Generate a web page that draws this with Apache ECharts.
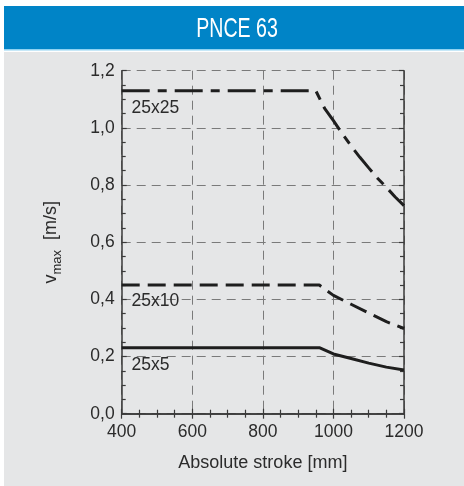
<!DOCTYPE html>
<html><head><meta charset="utf-8">
<script src="https://cdn.jsdelivr.net/npm/echarts@6/dist/echarts.min.js"></script>
<style>html,body{margin:0;padding:0;background:#fff}#c{width:464px;height:486px}</style>
</head><body><div id="c"></div>
<script>
var title = 'PNCE 63';
var xTicks = [400, 600, 800, 1000, 1200];
var yTicks = [0, 0.2, 0.4, 0.6, 0.8, 1.0, 1.2];
var stroke25x25 = [[400, 1.13], [950, 1.13], [975, 1.068], [1000, 1.025], [1025, 0.98], [1050, 0.937], [1075, 0.897], [1100, 0.86], [1125, 0.824], [1150, 0.792], [1175, 0.758], [1200, 0.728]];
var stroke25x10 = [[400, 0.45], [960, 0.45], [1000, 0.414], [1050, 0.383], [1100, 0.352], [1150, 0.322], [1200, 0.298]];
var stroke25x5 = [[400, 0.231], [960, 0.231], [1000, 0.209], [1050, 0.193], [1100, 0.177], [1150, 0.163], [1200, 0.153]];
var seriesNames = ['25x25', '25x10', '25x5'];
var labelPos = [[428, 1.07], [428, 0.392], [428, 0.17]];

var chart = echarts.init(document.getElementById('c'), null, {renderer: 'canvas'});
var txt = '#2b2b2b', axisCol = '#3a3a3a', gridCol = '#7a7a7a', lineCol = '#1e1e1e';
var FF = '"Liberation Sans", Arial, sans-serif';
function mk(name, data, type, idx) {
  return {
    name: name, type: 'line', data: data, symbol: 'none', smooth: false,
    lineStyle: {color: lineCol, width: 3, type: type},
    markPoint: {
      symbol: 'circle', symbolSize: 0,
      data: [{coord: labelPos[idx], value: name}],
      label: {show: true, position: 'right', distance: 0, formatter: name, color: txt, fontSize: 17.5, fontFamily: FF}
    },
    z: 5
  };
}
var axisCommon = {
  type: 'value',
  axisLine: {show: true, lineStyle: {color: axisCol, width: 1.5}},
  axisTick: {show: true, inside: true, length: 5, lineStyle: {color: axisCol, width: 1.2}},
  minorTick: {show: true, splitNumber: 4, length: 4, lineStyle: {color: axisCol, width: 1.2}}
};
function ax(o) { return Object.assign({}, JSON.parse(JSON.stringify(axisCommon)), o); }
chart.setOption({
  backgroundColor: '#ffffff',
  animation: false,
  graphic: [
    {type: 'rect', left: 4, top: 52, shape: {width: 460, height: 434}, style: {fill: '#e5e6e7'}, z: -10},
    {type: 'rect', left: 4, top: 6, shape: {width: 460, height: 43}, style: {fill: '#0084c7'}, z: -10},
    {type: 'rect', left: 4, top: 49, shape: {width: 460, height: 1.5}, style: {fill: '#8fd2f1'}, z: -10},
    {type: 'text', x: 237, y: 29, scaleX: 0.7, style: {text: title, fill: '#ffffff', fontSize: 28, fontFamily: FF, textAlign: 'center', textVerticalAlign: 'middle'}, z: 10}
  ],
  grid: {left: 121.7, right: 60, top: 70.7, bottom: 72.3, containLabel: false},
  xAxis: [
    ax({min: xTicks[0], max: xTicks[xTicks.length - 1], interval: 200, position: 'bottom',
      name: 'Absolute stroke [mm]', nameLocation: 'middle', nameGap: 40,
      nameTextStyle: {color: txt, fontSize: 18, fontFamily: FF},
      axisLabel: {color: txt, fontSize: 17.5, fontFamily: FF, margin: 9,
        formatter: function (v) { return String(v); }},
      splitLine: {show: true, lineStyle: {color: gridCol, width: 1, type: [9, 6]}}}),
    ax({min: xTicks[0], max: xTicks[xTicks.length - 1], interval: 200, position: 'top',
      axisLabel: {show: false}, splitLine: {show: false}})
  ],
  yAxis: [
    ax({min: yTicks[0], max: yTicks[yTicks.length - 1], interval: 0.2, position: 'left',
      name: 'v{sub|max}  [m/s]', nameLocation: 'middle', nameGap: 58,
      nameTextStyle: {color: txt, fontSize: 18, fontFamily: FF,
        rich: {sub: {fontSize: 13, fontFamily: FF, color: txt, padding: [12, 0, 0, 0]}}},
      axisLabel: {color: txt, fontSize: 17.5, fontFamily: FF, margin: 7,
        formatter: function (v) { return v.toFixed(1).replace('.', ','); }},
      splitLine: {show: true, lineStyle: {color: gridCol, width: 1, type: [9, 6]}}}),
    ax({min: yTicks[0], max: yTicks[yTicks.length - 1], interval: 0.2, position: 'right',
      axisLabel: {show: false}, splitLine: {show: false}})
  ],
  series: [
    mk(seriesNames[0], stroke25x25, [28, 8, 9, 8], 0),
    mk(seriesNames[1], stroke25x10, [18, 8], 1),
    mk(seriesNames[2], stroke25x5, 'solid', 2)
  ]
});
</script></body></html>
